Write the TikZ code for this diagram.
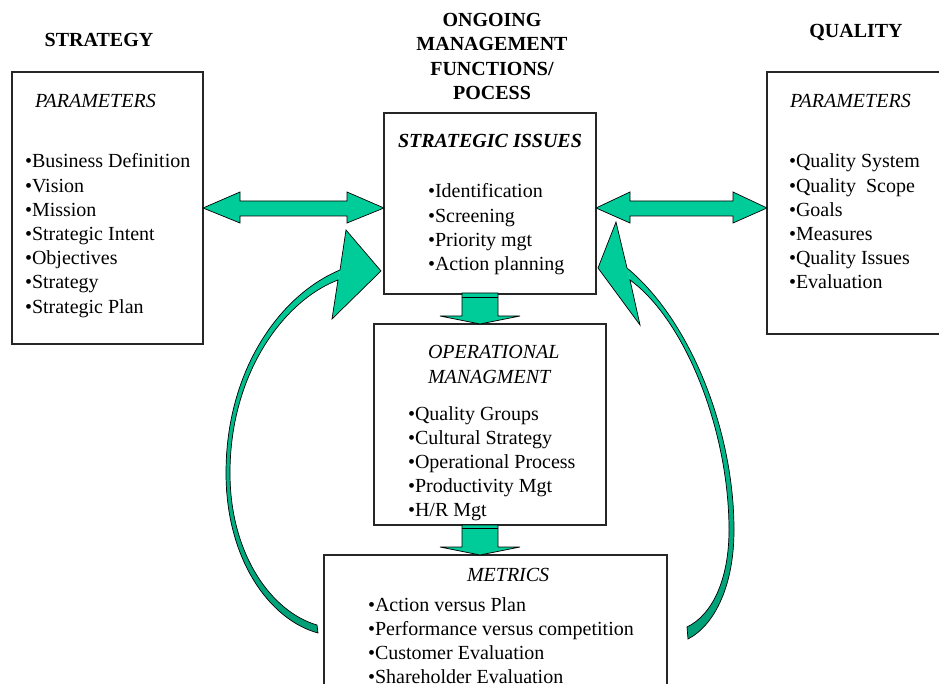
\documentclass[tikz,border=0pt]{standalone}
\usepackage{fontspec}
\setmainfont{Liberation Serif}
\definecolor{agreen}{HTML}{00CC99}
\definecolor{dgreen}{HTML}{009E76}
\begin{document}
\begin{tikzpicture}[x=1pt,y=-1pt,
  box/.style={draw=black!85, line width=1.3pt, fill=white, rectangle, inner sep=0pt, outer sep=0pt},
  fat/.style={fill=agreen, draw=black, line width=0.7pt, line join=miter},
  outl/.style={draw=black, line width=0.7pt, line join=miter},
  shaft/.style={top color=agreen, bottom color=dgreen, draw=none},
  txt/.style={anchor=base west, inner sep=0pt, outer sep=0pt, font=\fontsize{20}{24}\selectfont},
  ttl/.style={anchor=base west, inner sep=0pt, outer sep=0pt, font=\fontsize{20}{24}\selectfont\itshape},
  hdr/.style={anchor=base, inner sep=0pt, outer sep=0pt, font=\fontsize{20}{24}\selectfont\bfseries}]
\useasboundingbox (0,0) rectangle (939,684);
\clip (0,0) rectangle (939,684);

% boxes
\node[box, minimum width=191pt, minimum height=272pt] (strat) at (107.5,208) {};
\node[box, minimum width=212pt, minimum height=181pt] (si) at (490,203.5) {};
\node[box, minimum width=193pt, minimum height=262pt] (qual) at (863.5,203) {};
\node[box, minimum width=232pt, minimum height=201pt] (op) at (490,424.5) {};
\node[box, minimum width=343pt, minimum height=165pt] (met) at (495.5,637.5) {};

% headers
\node[hdr] (hstrat) at (99,47) {STRATEGY};
\node[hdr] (hq) at (856,38) {QUALITY};
\node[hdr] (h1) at (492,27) {ONGOING};
\node[hdr] (h2) at (492,51) {MANAGEMENT};
\node[hdr] (h3) at (492,76) {FUNCTIONS/};
\node[hdr] (h4) at (492,100) {POCESS};

% strategy box text
\node[ttl] (sparam) at (35,108) {PARAMETERS};
\foreach \t [count=\i] in {Business Definition,Vision,Mission,Strategic Intent,Objectives,Strategy,Strategic Plan}
  \node[txt] (s\i) at (25,{168+24.2*(\i-1)}) {•\t};

% strategic issues text
\node[anchor=base, inner sep=0pt, font=\fontsize{20}{24}\selectfont\bfseries\itshape] (sititle) at (490,148) {STRATEGIC ISSUES};
\foreach \t [count=\i] in {Identification,Screening,Priority mgt,Action planning}
  \node[txt] (si\i) at (428,{198+24.3*(\i-1)}) {•\t};

% quality text
\node[ttl] (qparam) at (790,108) {PARAMETERS};
\foreach \t [count=\i] in {Quality System,Quality~\ Scope,Goals,Measures,Quality Issues,Evaluation}
  \node[txt] (q\i) at (789,{168+24.2*(\i-1)}) {•\t};

% operational text
\node[ttl] (op1) at (428,359) {OPERATIONAL};
\node[ttl] (op2) at (428,383) {MANAGMENT};
\foreach \t [count=\i] in {Quality Groups,Cultural Strategy,Operational Process,Productivity Mgt,H/R Mgt}
  \node[txt] (o\i) at (408,{420+24.2*(\i-1)}) {•\t};

% metrics text
\node[ttl] (mt) at (467,581) {METRICS};
\foreach \t [count=\i] in {Action versus Plan,Performance versus competition,Customer Evaluation,Shareholder Evaluation}
  \node[txt] (m\i) at (368,{611+24.3*(\i-1)}) {•\t};

% horizontal double arrows
\draw[fat] (203,208) -- (240,192) -- (240,201) -- (347,201) -- (347,192) -- (384,208)
  -- (347,223) -- (347,216) -- (240,216) -- (240,223) -- cycle;
\draw[fat] (596,208) -- (630,192) -- (630,201) -- (733,201) -- (733,192) -- (767,208)
  -- (733,223) -- (733,216) -- (630,216) -- (630,223) -- cycle;

% down arrows
\draw[fat] (462,293) -- (462,316) -- (440,316) -- (480,324) -- (520,316) -- (498,316) -- (498,293) -- cycle;
\draw[black, line width=0.7pt] (462,297) -- (498,297);
\draw[fat] (462,525) -- (462,547) -- (440,547) -- (480,555) -- (520,547) -- (498,547) -- (498,525) -- cycle;
\draw[black, line width=0.7pt] (462,528) -- (498,528);

% left curved arrow
\path[shaft] (318,633) .. controls (270,620) and (226,560) .. (226,473)
  .. controls (226,370) and (280,295) .. (340,270) -- (338,280)
  .. controls (285,300) and (230,372) .. (230,473)
  .. controls (230,555) and (272,612) .. (317,625) -- cycle;
\fill[agreen] (340,270) -- (346,230) -- (381,271) -- (332,319) -- (338,280) -- cycle;
\draw[outl] (318,633) .. controls (270,620) and (226,560) .. (226,473)
  .. controls (226,370) and (280,295) .. (340,270) -- (346,230) -- (381,271) -- (332,319) -- (338,280)
  .. controls (285,300) and (230,372) .. (230,473)
  .. controls (230,555) and (272,612) .. (317,625) -- cycle;

% right curved arrow
\path[shaft] (688,639) .. controls (715,625) and (734,585) .. (734,530)
  .. controls (734,430) and (690,320) .. (627,268) -- (630,280)
  .. controls (685,320) and (729,430) .. (729,530)
  .. controls (729,580) and (712,615) .. (687,627) -- cycle;
\fill[agreen] (627,268) -- (616,222) -- (598,268) -- (640,325) -- (630,280) -- cycle;
\draw[outl] (688,639) .. controls (715,625) and (734,585) .. (734,530)
  .. controls (734,430) and (690,320) .. (627,268) -- (616,222) -- (598,268) -- (640,325) -- (630,280)
  .. controls (685,320) and (729,430) .. (729,530)
  .. controls (729,580) and (712,615) .. (687,627) -- cycle;
\end{tikzpicture}
\end{document}
